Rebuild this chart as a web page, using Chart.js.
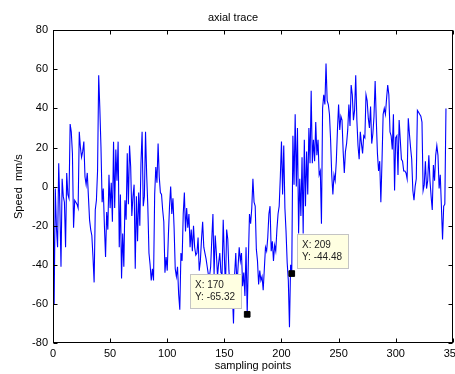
<!DOCTYPE html>
<html>
<head>
<meta charset="utf-8">
<script src="https://cdn.jsdelivr.net/npm/chart.js@4.4.0/dist/chart.umd.min.js"></script>
<style>
  html, body { margin: 0; padding: 0; background: #fff; overflow: hidden; }
  #wrap { width: 466px; height: 374px; }
</style>
</head>
<body>
<div id="wrap"><canvas id="trace"></canvas></div>
<script>
// axial speed, one value per sampling point (0..344)
const speed = [
  12,-60,-1,-21,-31,12,-10,-41,4,-5,
  -8,-31,7,-4,-6,32,28,17,-21,-7,
  -8,-9,-11,28,20,15,18,23,5,1,
  7,-5,-17,-22,-25,-36,-49,-12,-7,8,
  57,40,20,-8,-1,-20,-36,-13,-22,6,
  -11,2,-18,23,-11,19,3,23,-31,-4,
  -47,-24,-41,-7,-17,17,-9,21,10,-15,
  -5,1,-42,-5,-28,-3,-20,12,28,-10,
  -5,28,6,-10,-34,-40,-48,-42,-48,-4,
  10,2,22,5,-3,-4,-12,-18,-44,-36,
  -43,-25,-10,0,-14,-6,-21,-42,-46,-41,
  -55,-63,-34,-38,-14,-3,-23,-11,-21,-14,
  -31,-22,-33,-20,-31,-35,-34,-26,-43,-38,
  -27,-18,-31,-34,-37,-41,-45,-46,-41,-27,
  -14,-45,-25,-34,-46,-39,-34,-44,-45,-17,
  -36,-52,-22,-27,-43,-51,-52,-54,-70,-45,
  -34,-51,-41,-31,-38,-34,-51,-44,-56,-31,
  -65.32,-38,-14,-19,-11,4,-8,-10,-32,-38,
  -50,-43,-48,-46,-53,-42,-31,-33,-26,-14,
  -10,-33,-28,-38,-30,-33,-22,-14,-10,5,
  23,-4,21,-11,-23,-39,-48,-72,-40,-44.48,
  26,1,37,0,30,-24,4,-15,15,-24,
  24,-10,18,-4,30,12,49,12,24,13,
  33,16,24,6,8,-19,40,47,42,63,
  44,42,37,24,6,-4,6,3,13,29,
  42,29,36,34,18,7,18,22,29,42,
  31,52,47,34,39,57,34,21,14,28,
  22,17,26,25,47,44,35,30,41,22,
  27,36,54,34,17,8,13,-8,13,37,
  40,37,45,52,47,28,26,19,37,-2,
  25,26,6,34,24,14,13,8,8,7,
  4,35,27,20,14,-2,-7,0,4,39,
  38,37,36,33,-2,1,13,-1,3,16,
  3,-5,-12,11,3,16,21,16,-1,6,
  -10,-27,-10,-9,40
];

// data tips
const tipX = [170, 209];
const tipY = [-65.32, -44.48];

const xRange = [0, 350];
const yRange = [-80, 80];

const FONT = 'Arial, "Liberation Sans", sans-serif';

// box around the axes with inward ticks, plus the yellow data tip labels
const matlabAxes = {
  id: 'matlabAxes',
  afterDraw(chart) {
    const { ctx, chartArea: a, scales: { x, y } } = chart;
    const L = Math.round(a.left) + 0.5, R = Math.round(a.right) - 0.5;
    const T = Math.round(a.top) + 0.5, B = Math.round(a.bottom) - 0.5;
    ctx.save();
    ctx.strokeStyle = '#000';
    ctx.lineWidth = 1;
    ctx.strokeRect(L, T, R - L, B - T);
    ctx.beginPath();
    x.ticks.forEach(t => {
      const px = Math.round(x.getPixelForValue(t.value)) + 0.5;
      ctx.moveTo(px, B); ctx.lineTo(px, B - 4);
      ctx.moveTo(px, T); ctx.lineTo(px, T + 4);
    });
    y.ticks.forEach(t => {
      const py = Math.round(y.getPixelForValue(t.value)) + 0.5;
      ctx.moveTo(L, py); ctx.lineTo(L + 4, py);
      ctx.moveTo(R, py); ctx.lineTo(R - 4, py);
    });
    ctx.stroke();

    ctx.font = '10px ' + FONT;
    tipX.forEach((tx, i) => {
      const px = x.getPixelForValue(tx);
      const py = y.getPixelForValue(tipY[i]);
      const w = 52, h = 35;
      const left = i === 0 ? Math.round(px - 5 - w) : Math.round(px + 5);
      const top = Math.round(py - 5 - h);
      ctx.fillStyle = '#ffffe1';
      ctx.fillRect(left, top, w, h);
      ctx.strokeStyle = '#c4c4c4';
      ctx.strokeRect(left + 0.5, top + 0.5, w - 1, h - 1);
      ctx.fillStyle = '#222';
      ctx.textBaseline = 'alphabetic';
      ctx.textAlign = 'left';
      ctx.fillText('X: ' + tx, left + 5, top + 14);
      ctx.fillText('Y: ' + tipY[i].toFixed(2), left + 5, top + 26);
    });
    ctx.restore();
  }
};

new Chart(document.getElementById('trace'), {
  type: 'line',
  data: {
    datasets: [
      {
        label: 'tips',
        data: tipX.map((v, i) => ({ x: v, y: tipY[i] })),
        showLine: false,
        pointStyle: 'rect',
        pointRadius: 4,
        pointBackgroundColor: '#000',
        pointBorderColor: '#000',
        order: 0
      },
      {
        label: 'axial trace',
        data: speed.map((v, i) => ({ x: i, y: v })),
        borderColor: '#0000ff',
        borderWidth: 1.1,
        pointRadius: 0,
        tension: 0,
        fill: false,
        order: 1
      }
    ]
  },
  options: {
    responsive: true,
    maintainAspectRatio: false,
    animation: false,
    layout: { padding: 0 },
    plugins: {
      legend: { display: false },
      tooltip: { enabled: false },
      title: {
        display: true,
        text: 'axial trace',
        color: '#000',
        font: { family: FONT, size: 11, weight: 'normal' },
        padding: { top: 11, bottom: 6 }
      }
    },
    scales: {
      x: {
        type: 'linear',
        min: xRange[0],
        max: xRange[1],
        afterFit: s => { s.height = 31; },
        ticks: { stepSize: 50, color: '#000', padding: 4, maxRotation: 0,
                 font: { family: FONT, size: 11 } },
        grid: { display: false, drawTicks: false },
        border: { display: false },
        title: { display: true, text: 'sampling points', color: '#000',
                 padding: { top: 0, bottom: 1 },
                 font: { family: FONT, size: 11 } }
      },
      y: {
        min: yRange[0],
        max: yRange[1],
        afterFit: s => { s.width = 53; },
        ticks: { stepSize: 20, color: '#000', padding: 5,
                 font: { family: FONT, size: 11 } },
        grid: { display: false, drawTicks: false },
        border: { display: false },
        title: { display: true, text: 'Speed  mm/s', color: '#000',
                 padding: { top: 12, bottom: 0 },
                 font: { family: FONT, size: 11 } }
      }
    }
  },
  plugins: [matlabAxes]
});
</script>
</body>
</html>
